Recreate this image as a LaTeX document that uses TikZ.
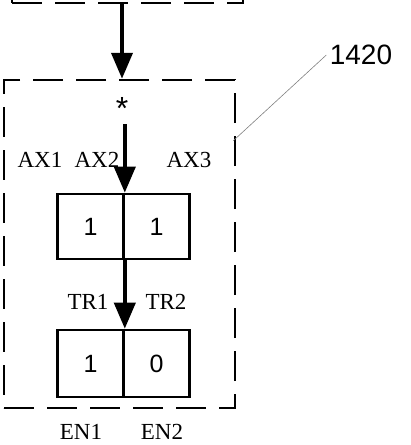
\documentclass[tikz,border=0pt]{standalone}
\usepackage{fontspec}
\setmainfont{Liberation Serif}
\newfontfamily\arialfont{Liberation Sans}
\usetikzlibrary{arrows.meta,calc}

\begin{document}
\begin{tikzpicture}[
  x=1pt, y=-1pt,
  cell/.style={draw, line width=2.6pt, minimum width=66pt, minimum height=#1, inner sep=0pt, font=\arialfont\fontsize{25}{28}\selectfont},
  grp/.style={draw, line width=2.5pt, dash pattern=on 30pt off 13pt, inner sep=0pt},
  lab/.style={font=\fontsize{23}{26}\selectfont, inner sep=0pt},
  arr/.style={-{Triangle[length=26pt 0 0,width=21pt 0 0]}, line width=4pt}
]
  \useasboundingbox (0,0) rectangle (411,445);

  % ===== dashed blocks =====
  \node[grp, minimum width=231pt, minimum height=40pt] (src) at (127.5,-17) {};
  \node[grp, minimum width=231pt, minimum height=328pt] (blk) at (119.5,244) {};

  \node[font=\arialfont\fontsize{32}{34}\selectfont, inner sep=0pt] (star) at (122,108) {*};

  % cells
  \node[cell=65pt] (a1) at (90.5,226.5) {1};
  \node[cell=65pt] (a2) at (156.5,226.5) {1};
  \node[cell=67pt] (e1) at (90.5,363.5) {1};
  \node[cell=67pt] (e2) at (156.5,363.5) {0};

  % arrows
  \draw[arr] (src.south -| star) -- (star |- blk.north);
  \draw[arr] (star.south -| a1.east) ++(0,5) -- (a1.north east);
  \draw[arr] (a1.south east) -- (e1.north east);

  % labels
  \node[lab] (ax1) at (40,160) {AX1};
  \node[lab] (ax2) at (97,160) {AX2};
  \node[lab] (ax3) at (189,160) {AX3};
  \node[lab] (tr1) at (88,302) {TR1};
  \node[lab] (tr2) at (166,302) {TR2};
  \node[lab] (en1) at (81,432) {EN1};
  \node[lab] (en2) at (162,432) {EN2};

  \node[font=\arialfont\fontsize{28}{30}\selectfont] (num) at (361,55) {1420};
  \draw[gray, line width=0.6pt] (num.west) -- ($(blk.north east)+(-3,62)$);
\end{tikzpicture}
\end{document}
